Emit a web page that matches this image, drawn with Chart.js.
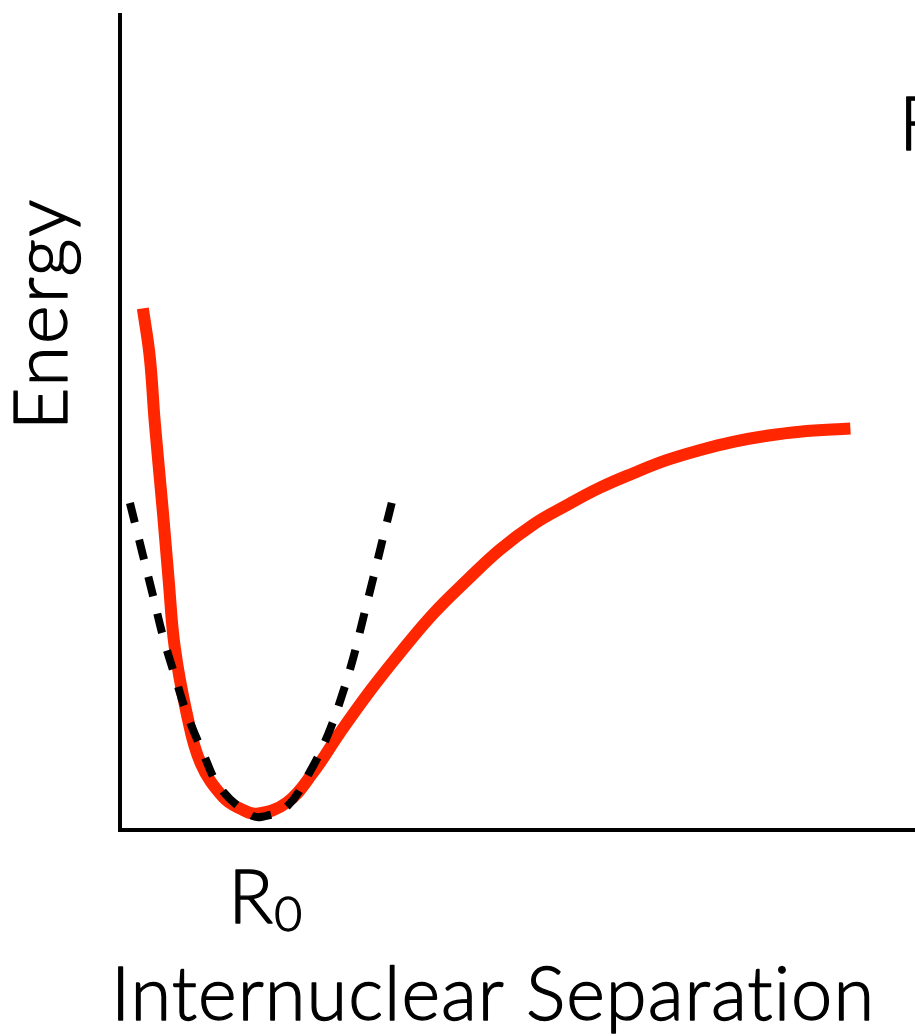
<!DOCTYPE html>
<html>
<head>
<meta charset="utf-8">
<script src="https://cdn.jsdelivr.net/npm/chart.js@4.4.1/dist/chart.umd.min.js"></script>
<style>
  html, body { margin: 0; padding: 0; background: #fff; }
  #wrap { width: 915px; height: 1036px; position: relative; }
</style>
</head>
<body>
<div id="wrap"><canvas id="morseChart"></canvas></div>
<script>
// values (arbitrary units)
const morseX = [0.23, 0.30, 0.35, 0.43, 0.49, 0.55, 0.67, 0.81, 1.04, 1.21, 1.38, 1.68, 1.94, 2.21, 2.52, 2.82, 3.15, 3.49, 3.82, 4.16, 4.50, 4.83, 5.16, 5.50, 5.84, 6.17, 6.51, 6.84, 7.35];
const morseY = [5.12, 4.64, 4.00, 3.14, 2.45, 1.80, 1.15, 0.66, 0.32, 0.21, 0.16, 0.27, 0.56, 0.95, 1.37, 1.74, 2.12, 2.45, 2.75, 3.00, 3.19, 3.36, 3.50, 3.63, 3.73, 3.81, 3.87, 3.91, 3.94];

const harmonicX = [0.10, 0.23, 0.33, 0.43, 0.55, 0.67, 0.83, 1.01, 1.31, 1.43, 1.68, 1.91, 2.09, 2.23, 2.35, 2.45, 2.55, 2.65, 2.76];
const harmonicY = [3.21, 2.70, 2.31, 1.91, 1.52, 1.15, 0.77, 0.41, 0.15, 0.13, 0.23, 0.57, 0.93, 1.31, 1.70, 2.09, 2.48, 2.88, 3.31];

const r0 = 1.38;
const xTitle = 'Internuclear Separat\u200Cion';
const yTitle = 'Energy';
const cornerLabel = 'F';

const toPoints = (xs, ys) => xs.map((v, i) => ({ x: v, y: ys[i] }));

// --------------------------
// text labels
// --------------------------
const labelsPlugin = {
    id: 'labels',
    afterDraw(chart) {
        const { ctx, scales } = chart;
        const font = 'Lato, "Noto Sans", sans-serif';

        // light weight with a thin outline, closer to the original face
        const text = (str, x, y) => {
            ctx.fillText(str, x, y);
            ctx.strokeText(str, x, y);
        };

        ctx.save();
        ctx.fillStyle = '#000';
        ctx.strokeStyle = '#000';
        ctx.lineWidth = 1.3;
        ctx.lineJoin = 'round';
        ctx.textBaseline = 'alphabetic';
        ctx.letterSpacing = '1px';

        // x title
        ctx.font = '300 74px ' + font;
        ctx.textAlign = 'center';
        text(xTitle, 493, 1020);

        // y title
        ctx.save();
        ctx.letterSpacing = '2px';
        ctx.translate(67, 314);
        ctx.rotate(-Math.PI / 2);
        text(yTitle, 0, 0);
        ctx.restore();

        // R0 under the minimum
        const rx = scales.x.getPixelForValue(r0);
        ctx.letterSpacing = '0px';
        ctx.textAlign = 'left';
        text('R', rx - 29, 923);
        ctx.font = '300 48px ' + font;
        text('0', rx + 17, 931);

        // label cut off at the right edge
        ctx.font = '300 74px ' + font;
        text(cornerLabel, 899, 150);

        ctx.restore();
    }
};

const axisStyle = {
    type: 'linear',
    min: 0,
    max: 8,
    grid: { display: false },
    ticks: { display: false },
    border: { display: true, color: '#000', width: 4 }
};

new Chart(document.getElementById('morseChart'), {
    type: 'scatter',
    data: {
        datasets: [
            {
                label: 'Harmonic',
                data: toPoints(harmonicX, harmonicY),
                showLine: true,
                borderColor: '#000',
                borderWidth: 8,
                borderDash: [20, 18],
                pointRadius: 0,
                tension: 0.4
            },
            {
                label: 'Morse',
                data: toPoints(morseX, morseY),
                showLine: true,
                borderColor: '#ff2600',
                borderWidth: 12,
                pointRadius: 0,
                tension: 0.4
            }
        ]
    },
    options: {
        responsive: true,
        maintainAspectRatio: false,
        animation: false,
        events: [],
        layout: { padding: { left: 112, top: 15, right: 0, bottom: 198 } },
        plugins: {
            legend: { display: false },
            tooltip: { enabled: false }
        },
        scales: {
            x: axisStyle,
            y: axisStyle
        }
    },
    plugins: [labelsPlugin]
});
</script>
</body>
</html>
